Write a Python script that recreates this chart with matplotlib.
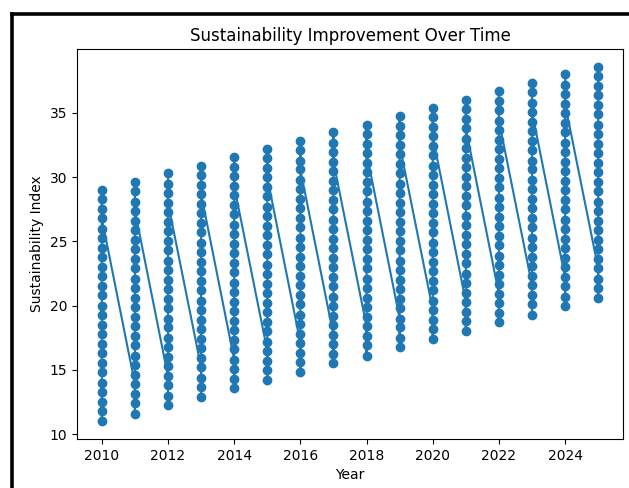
"""Sustainability index per year, all readings connected in recording order."""

import matplotlib

matplotlib.use("Agg")
import matplotlib.pyplot as plt  # noqa: E402
from matplotlib.lines import Line2D  # noqa: E402

years = list(range(2010, 2026))

# readings for each year, in the order they were recorded
index_2010 = [13.3, 11.0, 11.8, 12.5, 14.0, 14.8, 15.5, 16.3, 17.0, 17.8, 18.5, 19.3, 20.0,
              20.8, 21.5, 22.3, 23.0, 23.8, 24.5, 25.3, 26.0, 27.5, 28.3, 29.0, 26.8]
index_2011 = [13.9, 11.6, 12.4, 13.1, 14.6, 15.4, 16.1, 16.9, 17.6, 18.4, 19.1, 19.9, 20.6,
              21.4, 22.1, 22.9, 23.6, 24.4, 25.1, 25.9, 26.6, 28.1, 28.9, 29.6, 27.4]
index_2012 = [14.5, 12.3, 13.0, 13.8, 15.3, 16.0, 16.8, 17.5, 18.3, 19.0, 19.8, 20.5, 21.3,
              22.0, 22.8, 23.5, 24.3, 25.0, 25.8, 26.5, 27.3, 28.8, 29.5, 30.3, 28.0]
index_2013 = [15.2, 12.9, 13.7, 14.4, 15.9, 16.7, 17.4, 18.2, 18.9, 19.7, 20.4, 21.2, 21.9,
              22.7, 23.4, 24.2, 24.9, 25.7, 26.4, 27.2, 27.9, 29.4, 30.2, 30.9, 28.7]
index_2014 = [15.8, 13.6, 14.3, 15.1, 16.6, 17.3, 18.1, 18.8, 19.6, 20.3, 21.1, 21.8, 22.6,
              23.3, 24.1, 24.8, 25.6, 26.3, 27.1, 27.8, 28.6, 30.1, 30.8, 31.6, 29.3]
index_2015 = [16.5, 14.2, 15.0, 15.7, 17.2, 18.0, 18.7, 19.5, 20.2, 21.0, 21.7, 22.5, 23.2,
              24.0, 24.7, 25.5, 26.2, 27.0, 27.7, 28.5, 29.2, 30.7, 31.5, 32.2, 30.0]
index_2016 = [17.1, 14.8, 15.6, 16.3, 17.8, 18.6, 19.3, 20.1, 20.8, 21.6, 22.3, 23.1, 23.8,
              24.6, 25.3, 26.1, 26.8, 27.6, 28.3, 29.1, 29.8, 31.3, 32.1, 32.8, 30.6]
index_2017 = [17.7, 15.5, 16.2, 17.0, 18.5, 19.2, 20.0, 20.7, 21.5, 22.2, 23.0, 23.7, 24.5,
              25.2, 26.0, 26.7, 27.5, 28.2, 29.0, 29.7, 30.5, 32.0, 32.7, 33.5, 31.2]
index_2018 = [18.4, 16.1, 16.9, 17.6, 19.1, 19.9, 20.6, 21.4, 22.1, 22.9, 23.6, 24.4, 25.1,
              25.9, 26.6, 27.4, 28.1, 28.9, 29.6, 30.4, 31.1, 32.6, 33.4, 34.1, 31.9]
index_2019 = [19.0, 16.8, 17.5, 18.3, 19.8, 20.5, 21.3, 22.0, 22.8, 23.5, 24.3, 25.0, 25.8,
              26.5, 27.3, 28.0, 28.8, 29.5, 30.3, 31.0, 31.8, 33.3, 34.0, 34.8, 32.5]
index_2020 = [19.7, 17.4, 18.2, 18.9, 20.4, 21.2, 21.9, 22.7, 23.4, 24.2, 24.9, 25.7, 26.4,
              27.2, 27.9, 28.7, 29.4, 30.2, 30.9, 31.7, 32.4, 33.9, 34.7, 35.4, 33.2]
index_2021 = [20.3, 18.0, 18.8, 19.5, 21.0, 21.8, 22.5, 23.3, 24.0, 24.8, 25.5, 26.3, 27.0,
              27.8, 28.5, 29.3, 30.0, 30.8, 31.5, 32.3, 33.0, 34.5, 35.3, 36.0, 33.8]
index_2022 = [20.9, 18.7, 19.4, 20.2, 21.7, 22.4, 23.2, 23.9, 24.7, 25.4, 26.2, 26.9, 27.7,
              28.4, 29.2, 29.9, 30.7, 31.4, 32.2, 32.9, 33.7, 35.2, 35.9, 36.7, 34.4]
index_2023 = [21.6, 19.3, 20.1, 20.8, 22.3, 23.1, 23.8, 24.6, 25.3, 26.1, 26.8, 27.6, 28.3,
              29.1, 29.8, 30.6, 31.3, 32.1, 32.8, 33.6, 34.3, 35.8, 36.6, 37.3, 35.1]
index_2024 = [22.2, 20.0, 20.7, 21.5, 23.0, 23.7, 24.5, 25.2, 26.0, 26.7, 27.5, 28.2, 29.0,
              29.7, 30.5, 31.2, 32.0, 32.7, 33.5, 34.2, 35.0, 36.5, 37.2, 38.0, 35.7]
index_2025 = [22.9, 20.6, 21.4, 22.1, 23.6, 24.4, 25.1, 25.9, 26.6, 27.4, 28.1, 28.9, 29.6,
              30.4, 31.1, 31.9, 32.6, 33.4, 34.1, 34.9, 35.6, 37.1, 37.9, 38.6, 36.4]

readings = [index_2010, index_2011, index_2012, index_2013, index_2014, index_2015,
            index_2016, index_2017, index_2018, index_2019, index_2020, index_2021,
            index_2022, index_2023, index_2024, index_2025]

x = [yr for yr, vals in zip(years, readings) for _ in vals]
y = [v for vals in readings for v in vals]

W, H = 629, 488
fig = plt.figure(figsize=(W / 100, H / 100), dpi=100)
ax = fig.add_axes([77 / W, 1 - 439 / H, 546 / W, 390 / H])

ax.plot(x, y, marker="o", color="#1f77b4")
ax.set_title("Sustainability Improvement Over Time", fontsize=12)
ax.set_xlabel("Year")
ax.set_ylabel("Sustainability Index")

# heavy frame round the figure (only its top and left edges fall inside)
fig.add_artist(Line2D([11.5 / W, 11.5 / W], [0, 1 - 13.5 / H], transform=fig.transFigure,
                      color="black", lw=2.6, solid_capstyle="projecting"))
fig.add_artist(Line2D([11.5 / W, 1], [1 - 13.5 / H, 1 - 13.5 / H], transform=fig.transFigure,
                      color="black", lw=2.6, solid_capstyle="projecting"))

fig.savefig("out.png", dpi=100)
